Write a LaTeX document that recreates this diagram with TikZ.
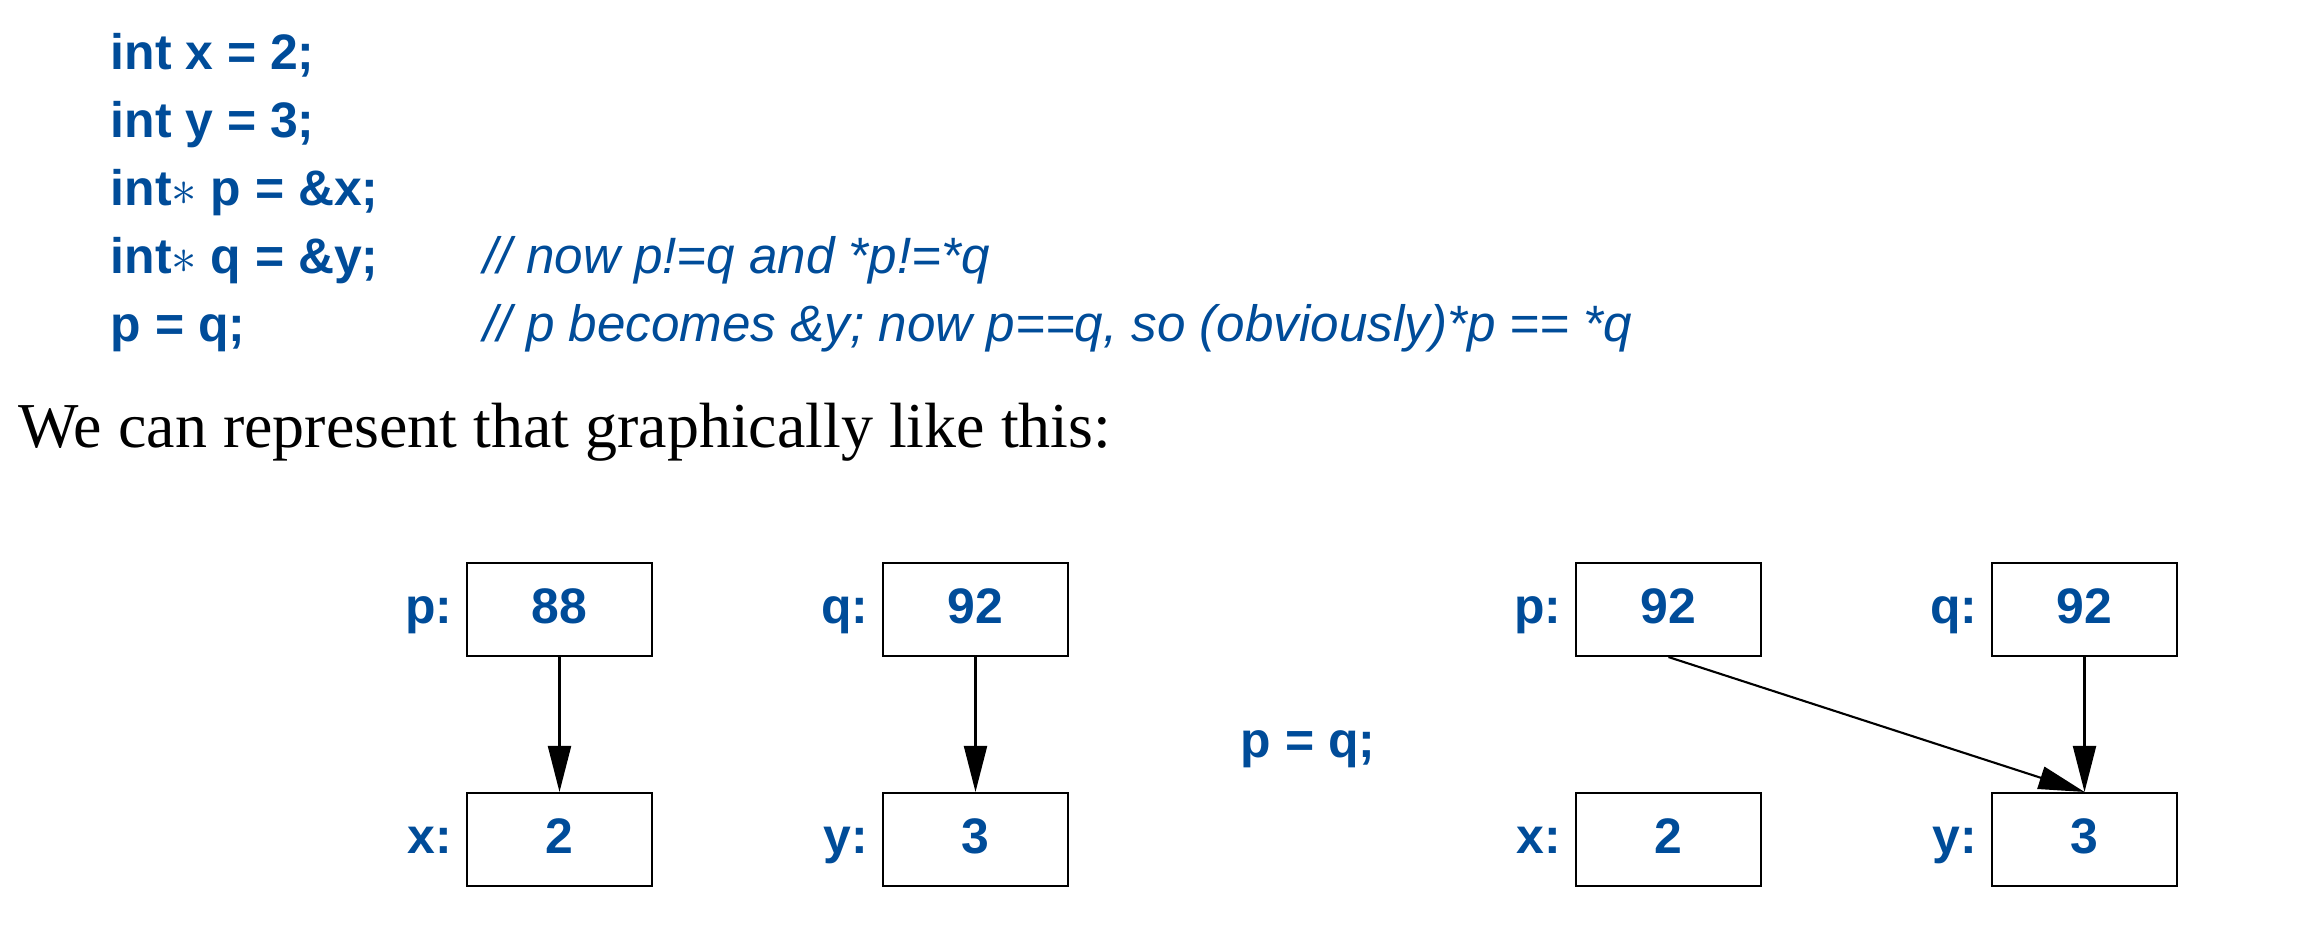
\documentclass[tikz,border=0pt]{standalone}
\usepackage{fontspec}
\setmainfont{Liberation Serif}
\setsansfont{Liberation Sans}
\usetikzlibrary{arrows.meta}
\definecolor{codeblue}{RGB}{0,76,153}

\begin{document}
\begin{tikzpicture}[
        codeline/.style={anchor=base west,inner sep=0pt,text=codeblue,font=\fontsize{14.2}{17}\sffamily\bfseries},
        remark/.style={anchor=base west,inner sep=0pt,text=codeblue,font=\fontsize{14.55}{17}\sffamily\itshape},
        cellbox/.style={draw,line width=0.6pt,minimum width=1.85cm,minimum height=0.93cm,inner sep=0pt,text depth=0.18em,text=codeblue,font=\fontsize{14.2}{17}\sffamily\bfseries},
        varname/.style={anchor=base east,inner sep=0pt,text=codeblue,font=\fontsize{14.2}{17}\sffamily\bfseries},
        pointer/.style={line width=0.6pt,-{Triangle[length=0.46cm,width=0.23cm]}}
    ]
        \useasboundingbox (0,0) rectangle (23.07,-9.32);
        % the code
        \node[codeline] (l1) at (1.10,-0.69) {int x = 2;};
        \node[codeline] (l2) at (1.10,-1.37) {int y = 3;};
        \node[codeline] (l3) at (1.10,-2.05) {int$\ast$ p = \&x;};
        \node[codeline] (l4) at (1.10,-2.735) {int$\ast$ q = \&y;};
        \node[codeline] (l5) at (1.10,-3.415) {p = q;};
        \node[remark] (c4) at (4.83,-2.735) {// now p!=q and *p!=*q};
        \node[remark] (c5) at (4.83,-3.415) {// p becomes \&y; now p==q, so (obviously)*p == *q};
        \node[anchor=base west,inner sep=0pt,font=\fontsize{18.2}{22}\selectfont] (intro) at (0.18,-4.47) {We can represent that graphically like this:};
        % before
        \node[cellbox] (p1) at (5.595,-6.095) {88};
        \node[cellbox] (x1) at (5.595,-8.395) {2};
        \node[cellbox] (q1) at (9.755,-6.095) {92};
        \node[cellbox] (y1) at (9.755,-8.395) {3};
        \node[varname] (lp1) at ([xshift=-0.13cm]p1.base west) {p:};
        \node[varname] (lx1) at ([xshift=-0.13cm]x1.base west) {x:};
        \node[varname] (lq1) at ([xshift=-0.13cm]q1.base west) {q:};
        \node[varname] (ly1) at ([xshift=-0.13cm]y1.base west) {y:};
        \draw[pointer] (p1.south) -- (x1.north);
        \draw[pointer] (q1.south) -- (y1.north);
        \node[codeline] (assign) at (12.40,-7.57) {p = q;};
        % after
        \node[cellbox] (p2) at (16.685,-6.095) {92};
        \node[cellbox] (x2) at (16.685,-8.395) {2};
        \node[cellbox] (q2) at (20.845,-6.095) {92};
        \node[cellbox] (y2) at (20.845,-8.395) {3};
        \node[varname] (lp2) at ([xshift=-0.13cm]p2.base west) {p:};
        \node[varname] (lx2) at ([xshift=-0.13cm]x2.base west) {x:};
        \node[varname] (lq2) at ([xshift=-0.13cm]q2.base west) {q:};
        \node[varname] (ly2) at ([xshift=-0.13cm]y2.base west) {y:};
        \draw[pointer] (p2.south) -- (y2.north);
        \draw[pointer] (q2.south) -- (y2.north);
\end{tikzpicture}
\end{document}
